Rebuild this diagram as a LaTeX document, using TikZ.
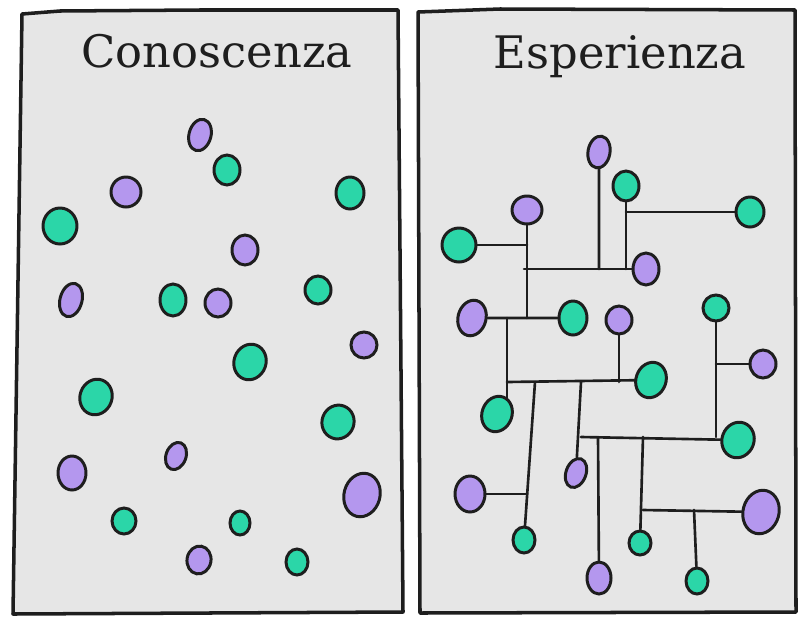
\documentclass[tikz,border=0pt]{standalone}
\usepackage{fontspec}
\setmainfont{DejaVu Serif}
\usetikzlibrary{shapes.geometric,backgrounds}
\definecolor{panelgray}{HTML}{E6E6E6}
\definecolor{mint}{HTML}{2BD6A8}
\definecolor{lilac}{HTML}{B497EE}
\definecolor{ink}{HTML}{1E1E1E}
\tikzset{
  panel/.style={draw=ink, line width=2pt, fill=panelgray, line join=round},
  blob/.style={ellipse, draw=ink, line width=1.7pt, fill=#1, inner sep=0pt},
  sz/.style 2 args={minimum width=#1*0.2mm, minimum height=#2*0.2mm},
  link/.style={draw=ink, line width=1.5pt, line cap=round},
  heading/.style={anchor=base, text=ink, font=\fontsize{25.5}{30}\selectfont}
}
\begin{document}
\begin{tikzpicture}[x=0.02cm, y=-0.02cm]
  \useasboundingbox (0,0) rectangle (800,619);
  \node[heading] (know) at (217,67) {Conoscenza};
  \node[heading] (exp) at (620,68) {Esperienza};
  \foreach \x/\y/\w/\h/\c/\r [count=\i] in {
    200/135/22/32/lilac/-15, 227/170/26/30/mint/0, 126/192/30/30/lilac/0,
    350/193/28/32/mint/0, 60/226/34/36/mint/0, 245/250/26/30/lilac/0,
    71/300/22/34/lilac/-15, 173/300/26/32/mint/0, 218/303/26/28/lilac/0,
    318/290/26/28/mint/0, 364/345/26/26/lilac/0, 250/362/32/36/mint/-20,
    96/397/32/36/mint/-20, 338/422/32/34/mint/-20, 176/456/20/28/lilac/-20,
    72/473/28/34/lilac/0, 362/495/36/44/lilac/-15, 124/521/24/26/mint/0,
    240/523/20/24/mint/0, 199/560/24/28/lilac/-10, 297/562/22/26/mint/0}
    \node[blob=\c, sz={\w}{\h}, rotate=\r] (l\i) at (\x,\y) {};
  \node[blob=lilac, sz={22}{32}, rotate=-10] (p1) at (599,152) {};
  \node[blob=mint, sz={26}{30}] (g2) at (626,186) {};
  \node[blob=mint, sz={28}{30}] (g3) at (750,212) {};
  \node[blob=lilac, sz={30}{28}] (p4) at (527,210) {};
  \node[blob=mint, sz={34}{34}] (g5) at (459,245) {};
  \node[blob=lilac, sz={26}{32}] (p6) at (646,269) {};
  \node[blob=lilac, sz={28}{36}, rotate=-15] (p7) at (472,318) {};
  \node[blob=mint, sz={28}{34}] (g8) at (573,318) {};
  \node[blob=lilac, sz={26}{28}] (p9) at (619,320) {};
  \node[blob=mint, sz={26}{26}] (g10) at (716,308) {};
  \node[blob=lilac, sz={26}{28}] (p11) at (763,364) {};
  \node[blob=mint, sz={30}{36}, rotate=-20] (g12) at (497,414) {};
  \node[blob=mint, sz={30}{36}, rotate=-20] (g13) at (651,380) {};
  \node[blob=lilac, sz={30}{36}] (p14) at (470,494) {};
  \node[blob=lilac, sz={20}{30}, rotate=-20] (p15) at (576,473) {};
  \node[blob=mint, sz={32}{36}, rotate=-20] (g16) at (738,440) {};
  \node[blob=lilac, sz={24}{32}] (p17) at (599,578) {};
  \node[blob=mint, sz={22}{26}] (g18) at (524,540) {};
  \node[blob=mint, sz={22}{24}] (g19) at (640,543) {};
  \node[blob=lilac, sz={36}{44}, rotate=-15] (p20) at (761,512) {};
  \node[blob=mint, sz={22}{26}] (g21) at (697,581) {};
  \coordinate (h1) at (524,269);
  \coordinate (jg) at (507,318);
  \coordinate (jh) at (507,382);
  \coordinate (jj) at (535,382);
  \coordinate (jk) at (527,494);
  \coordinate (jl) at (581,382);
  \coordinate (jm) at (581,437);
  \coordinate (jp) at (598,437);
  \coordinate (jq) at (643,437);
  \coordinate (jr) at (643,510);
  \coordinate (js) at (694,510);
  \begin{scope}[on background layer]
    \draw[panel] (22,14) -- (60,11) -- (200,10) -- (398,10) -- (403,612) -- (13,614) -- cycle;
    \draw[panel] (418,12) -- (500,9) -- (795,10) -- (796,612) -- (420,613) -- cycle;
    \draw[link] (h1) -- (p6);
    \draw[link] (p1) -- (p1 |- h1);
    \draw[link] (g2) -- (g2 |- h1);
    \draw[link] (g2 |- g3) -- (g3);
    \draw[link] (p4) -- (p4 |- p7);
    \draw[link] (g5) -- (g5 -| p4);
    \draw[link] (p7) -- (g8);
    \draw[link] (jg) -- (jg |- g12);
    \draw[link] (jh) -- (g13);
    \draw[link] (p9) -- (p9 |- jh);
    \draw[link] (jj) -- (g18);
    \draw[link] (p14) -- (jk);
    \draw[link] (jl) -- (p15);
    \draw[link] (jm) -- (g16);
    \draw[link] (g10) -- (g10 |- jm);
    \draw[link] (g10 |- p11) -- (p11);
    \draw[link] (jp) -- (p17);
    \draw[link] (jq) -- (g19);
    \draw[link] (jr) -- (p20);
    \draw[link] (js) -- (g21);
  \end{scope}
\end{tikzpicture}
\end{document}
